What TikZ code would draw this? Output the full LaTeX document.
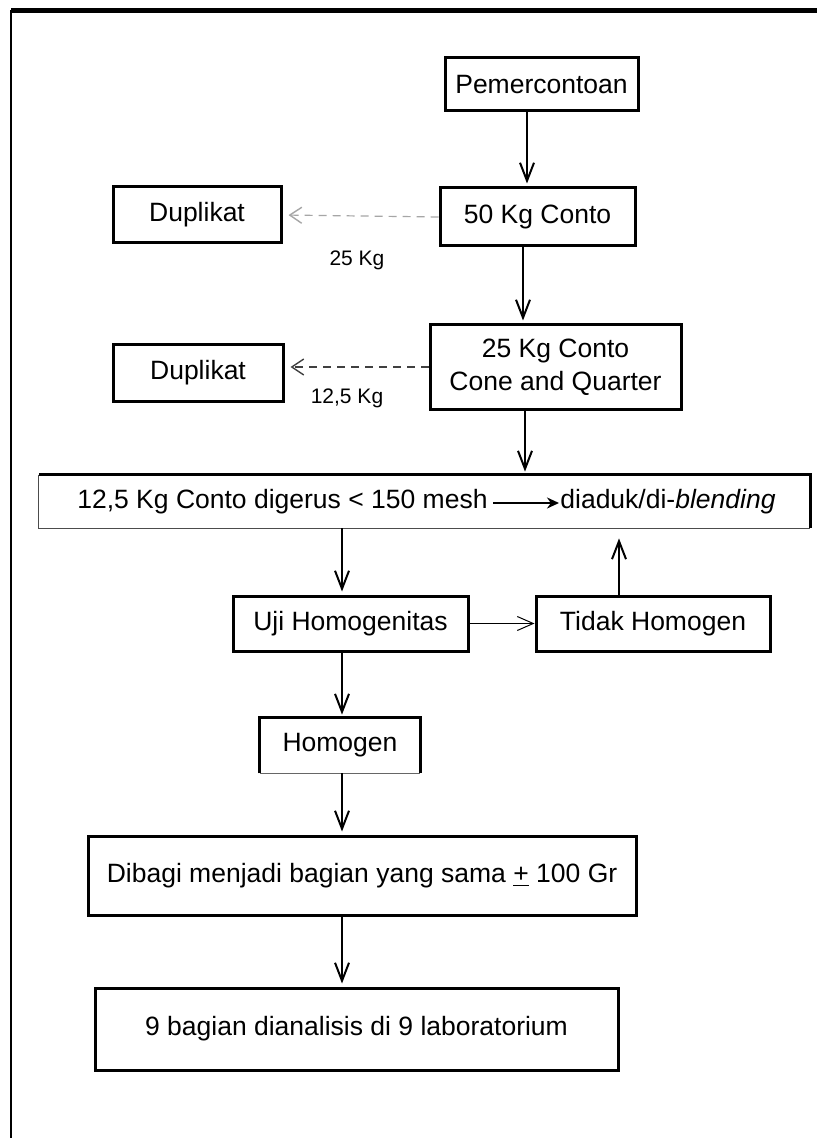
\documentclass[tikz,border=0pt]{standalone}
\usepackage{fontspec}
\setmainfont{Liberation Sans}
\usetikzlibrary{arrows.meta}
\begin{document}
\begin{tikzpicture}[x=0.5pt,y=-0.5pt,
  txt/.style={font=\fontsize{13.25}{16.5}\selectfont},
  box/.style={draw, line width=1.5pt, rectangle, inner sep=0pt, align=center, txt},
  openbox/.style={rectangle, inner sep=0pt, align=center, txt},
  flow/.style={line width=1.2pt, -{Straight Barb[length=9pt,width=7pt,line width=1pt]}, shorten >=1.5pt},
  lbl/.style={font=\fontsize{10.5}{12}\selectfont, inner sep=0pt},
  dupa/.style={dash pattern=on 4pt off 3pt, line width=0.6pt, -{Straight Barb[length=6pt,width=8pt,line width=0.7pt]}, shorten >=3pt}
]
\useasboundingbox (0,0) rectangle (817,1138);
\fill[white] (0,0) rectangle (817,1138);
% outer frame
\coordinate (ftl) at (11,10.5);
\coordinate (ftr) at (817,10.5);
\coordinate (fbl) at (11,1138);
\draw[line width=2.5pt] (ftl) -- (ftr);
\draw[line width=1.4pt] (fbl) -- (ftl);

% column x coordinates for arrows
\coordinate (xa) at (527,0);
\coordinate (xb) at (523,0);
\coordinate (xc) at (525,0);
\coordinate (xd) at (342,0);
\coordinate (xe) at (619,0);

% nodes
\node[box, minimum width=96.5pt, minimum height=26.5pt] (pem) at (541.5,84.5) {Pemercontoan};
\node[box, minimum width=84pt, minimum height=28pt] (dup1) at (197,215) {Duplikat};
\node[box, minimum width=97.5pt, minimum height=29pt] (c50) at (537.5,217) {50 Kg Conto};
\node[box, minimum width=125.5pt, minimum height=42pt] (c25) at (555.5,367) {25 Kg Conto\\Cone and Quarter};
\node[box, minimum width=85pt, minimum height=28pt] (dup2) at (198,373) {Duplikat};
\node[openbox, minimum width=385.5pt, minimum height=26.5pt] (big) at (424.5,501.5) {};
\node[box, minimum width=117.5pt, minimum height=27.5pt] (uji) at (350.5,623.5) {Uji Homogenitas};
\node[box, minimum width=117pt, minimum height=27.5pt] (tidak) at (653,623.5) {Tidak Homogen};
\node[openbox, minimum width=80pt, minimum height=27.5pt] (homo) at (340,745.5) {Homogen};
\node[box, minimum width=274pt, minimum height=39.5pt] (dibagi) at (362,875.5) {Dibagi menjadi bagian yang sama \underline{+} 100 Gr};
\node[box, minimum width=261.5pt, minimum height=41pt] (nine) at (356.5,1029) {9 bagian dianalisis di 9 laboratorium};

% big box borders (thick top/right, thin left/bottom)
\draw[line width=1.5pt] (big.south east) -- (big.north east) -- (big.north west);
\draw[line width=0.6pt, black!70] (big.north west) -- (big.south west) -- (big.south east);
% homogen borders (thin bottom)
\draw[line width=1.5pt] (homo.south west) -- (homo.north west) -- (homo.north east) -- (homo.south east);
\draw[line width=0.6pt, black!60] (homo.south west) -- (homo.south east);

% text inside big box
\node[openbox, anchor=mid east] (bt1) at (488,503) {12,5 Kg Conto digerus < 150 mesh};
\node[openbox, anchor=mid west] (bt2) at (560,503) {diaduk/di-\textit{blending}};
\draw[line width=1.2pt, -{Stealth[length=6pt,width=5.5pt]}] ([xshift=2.5pt]bt1.mid east) -- ([xshift=-0.5pt]bt2.mid west);

% labels
\node[lbl] (l25) at (357,260) {25 Kg};
\node[lbl] (l125) at (347,398) {12,5 Kg};

% main flow
\draw[flow] (pem.south -| xa) -- (c50.north -| xa);
\draw[flow] (c50.south -| xb) -- (c25.north -| xb);
\draw[flow] (c25.south -| xc) -- (big.north -| xc);
\draw[flow] (big.south -| xd) -- (uji.north -| xd);
\draw[flow] (uji.south -| xd) -- (homo.north -| xd);
\draw[flow] (homo.south -| xd) -- (dibagi.north -| xd);
\draw[flow] (dibagi.south -| xd) -- (nine.north -| xd);
\draw[flow, shorten >=5pt] (tidak.north -| xe) -- (big.south -| xe);
\draw[line width=0.5pt, -{Straight Barb[length=8pt,width=7pt,line width=0.5pt]}] (uji.east) -- (tidak.west);

% duplicate branches
\draw[dupa, black!35] (c50.west) -- (dup1.east);
\draw[dupa, black!75] (c25.west) -- (dup2.east |- c25.west);
\end{tikzpicture}
\end{document}
